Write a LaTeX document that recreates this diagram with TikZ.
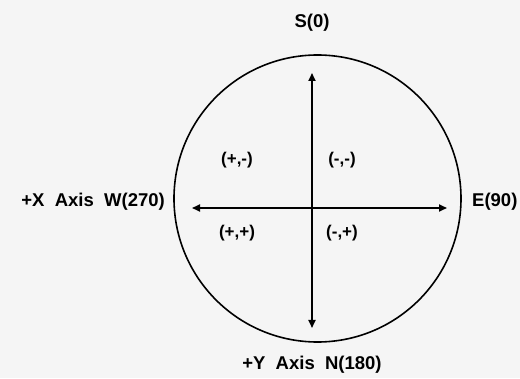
\documentclass[tikz,border=0pt]{standalone}
\usepackage{fontspec}
\setmainfont{Liberation Sans}
\usetikzlibrary{arrows.meta,positioning}
\tikzset{
    dirlabel/.style={font=\bfseries\fontsize{18.5}{20}\selectfont, inner sep=1pt},
    quadlabel/.style={font=\bfseries\fontsize{17}{19}\selectfont, inner sep=1pt},
}

\begin{document}
\begin{tikzpicture}[
            x=1pt, y=1pt,
            >={Triangle[length=8pt, width=7pt]},
            axis/.style={line width=1.8pt}
        ]
            \fill[black!4] (0,0) rectangle (520,378);
            \useasboundingbox (0,0) rectangle (520,378);
            % circle
            \node[draw, circle, line width=1.6pt, minimum size=287pt, inner sep=0pt] (dial) at (317.5,179.5) {};
            % axis ends
            \coordinate (ctr) at (312,170);
            \coordinate (up) at (312,305);
            \coordinate (down) at (312,50);
            \coordinate (left) at (192,170);
            \coordinate (right) at (447,170);
            % labels
            \node[dirlabel] (south) at (312,355) {S(0)};
            \node[dirlabel, anchor=west] (east) at (471,176) {E(90)};
            \node[dirlabel, anchor=east] (west) at (166,176) {+X\ \ Axis\ \ W(270)};
            \node[dirlabel] (north) at (312,13) {+Y\ \ Axis\ \ N(180)};
            \node[quadlabel] (pm) at (237,218) {(+,-)};
            \node[quadlabel] (mm) at (342,218) {(-,-)};
            \node[quadlabel] (pp) at (237,145) {(+,+)};
            \node[quadlabel] (mp) at (342,145) {(-,+)};
            % arrows
            \draw[axis, <->] (down) -- (up);
            \draw[axis, <->] (left) -- (right);
        \end{tikzpicture}
\end{document}
